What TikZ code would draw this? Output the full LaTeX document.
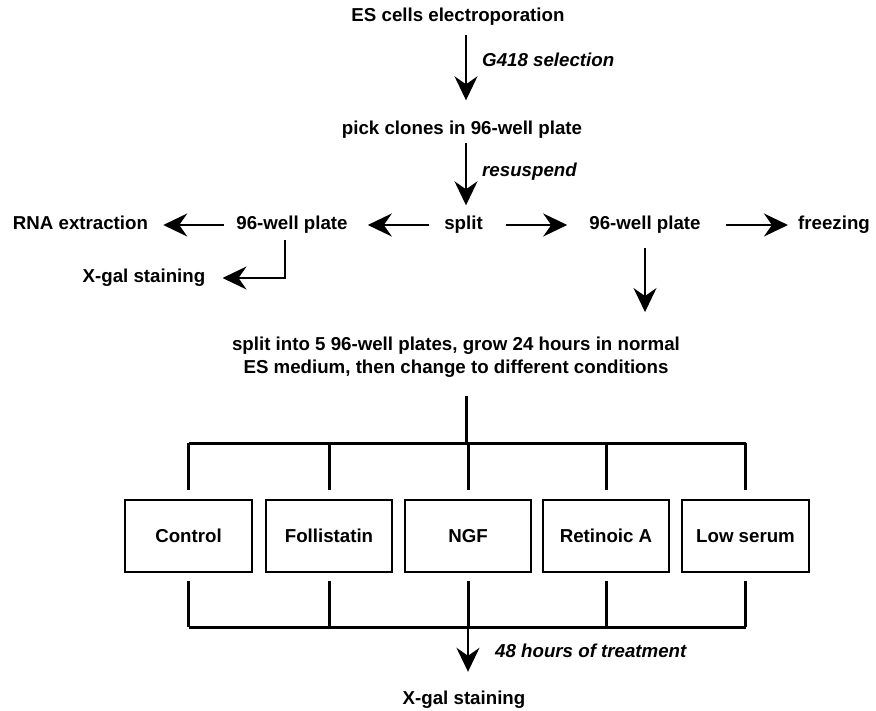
\documentclass[tikz,border=0pt]{standalone}
\usepackage{fontspec}
\setmainfont{Liberation Sans}
\usetikzlibrary{arrows.meta,calc}
\begin{document}
\begin{tikzpicture}[x=1pt,y=-1pt,
  txt/.style={font=\fontsize{18.7}{23}\selectfont\bfseries, inner sep=0pt, text height=13pt, text depth=4pt},
  para/.style={font=\fontsize{18.7}{23}\selectfont\bfseries, inner sep=0pt, align=center},
  lbl/.style={font=\fontsize{18.7}{23}\selectfont\bfseries\itshape, inner sep=0pt, text height=13pt, text depth=4pt, anchor=west},
  condbox/.style={draw, line width=1.8pt, minimum width=126pt, minimum height=72pt, inner sep=0pt, font=\fontsize{18.7}{23}\selectfont\bfseries},
  arr/.style={line width=2pt, -{Stealth[length=24pt,width=23pt,inset=8pt]}},
  barline/.style={line width=3pt}]
\useasboundingbox[fill=white] (0,0) rectangle (876,711);

\node[txt] (es) at (458,17) {ES cells electroporation};
\node[txt] (pick) at (462,130) {pick clones in 96-well plate};
\node[txt] (split) at (463.5,225) {split};
\node[txt] (pl) at (292,225) {96-well plate};
\node[txt] (pr) at (645,225) {96-well plate};
\node[txt] (rna) at (80.5,225) {RNA extraction};
\node[txt] (frz) at (834,225) {freezing};
\node[txt] (xg1) at (144,278) {X-gal staining};
\node[para] (sp5) at (456,357) {split into 5 96-well plates, grow 24 hours in normal\\ES medium, then change to different conditions};
\node[txt] (xg2) at (464,700) {X-gal staining};

\node[lbl] (g418) at (482,62) {G418 selection};
\node[lbl] (resus) at (482,172) {resuspend};
\node[lbl] (h48) at (495,653) {48 hours of treatment};

\node[condbox, minimum width=127pt] (c1) at (188.5,536) {Control};
\node[condbox] (c2) at (329,536) {Follistatin};
\node[condbox] (c3) at (468,536) {NGF};
\node[condbox] (c4) at (606,536) {Retinoic A};
\node[condbox, minimum width=127pt] (c5) at (745.5,536) {Low serum};

\coordinate (topbar) at (466,443);
\coordinate (botbar) at (467,627);

% top chain
\draw[arr, shorten <=9.5pt, shorten >=21pt] ([xshift=8pt]es.south) -- ([xshift=4pt]pick.north);
\draw[arr, shorten <=4.5pt, shorten >=11pt] ([xshift=4pt]pick.south) -- ([xshift=2.5pt]split.north);

% row
\draw[arr, shorten <=15pt, shorten >=20pt] (split.west) -- (pl.east);
\draw[arr, shorten <=23pt, shorten >=22pt] (split.east) -- (pr.west);
\draw[arr, shorten <=25pt, shorten >=10pt] (pr.east) -- (frz.west);
\draw[arr, shorten <=12pt, shorten >=15pt] (pl.west) -- (rna.east);
\draw[arr, shorten <=6.5pt, shorten >=17pt] ([xshift=-7pt]pl.south) |- (xg1.east);
\draw[arr, shorten <=14.5pt, shorten >=24.5pt] (pr.south) -- (pr.south |- sp5.north);

% distribution tree
\draw[barline, shorten <=18.5pt] ([xshift=10pt]sp5.south) -- (topbar);
\draw[barline] (c1.north |- topbar) -- (c5.north |- topbar);
\foreach \b in {c1,c2,c3,c4,c5}{
  \draw[barline, shorten >=9pt] (\b.north |- topbar) -- (\b.north);
  \draw[barline, shorten <=8pt] (\b.south) -- (\b.south |- botbar);
}
\draw[barline] (c1.south |- botbar) -- (c5.south |- botbar);
\draw[arr, shorten >=19.5pt] (c3.south |- botbar) -- (xg2.north -| c3.south);
\end{tikzpicture}
\end{document}
